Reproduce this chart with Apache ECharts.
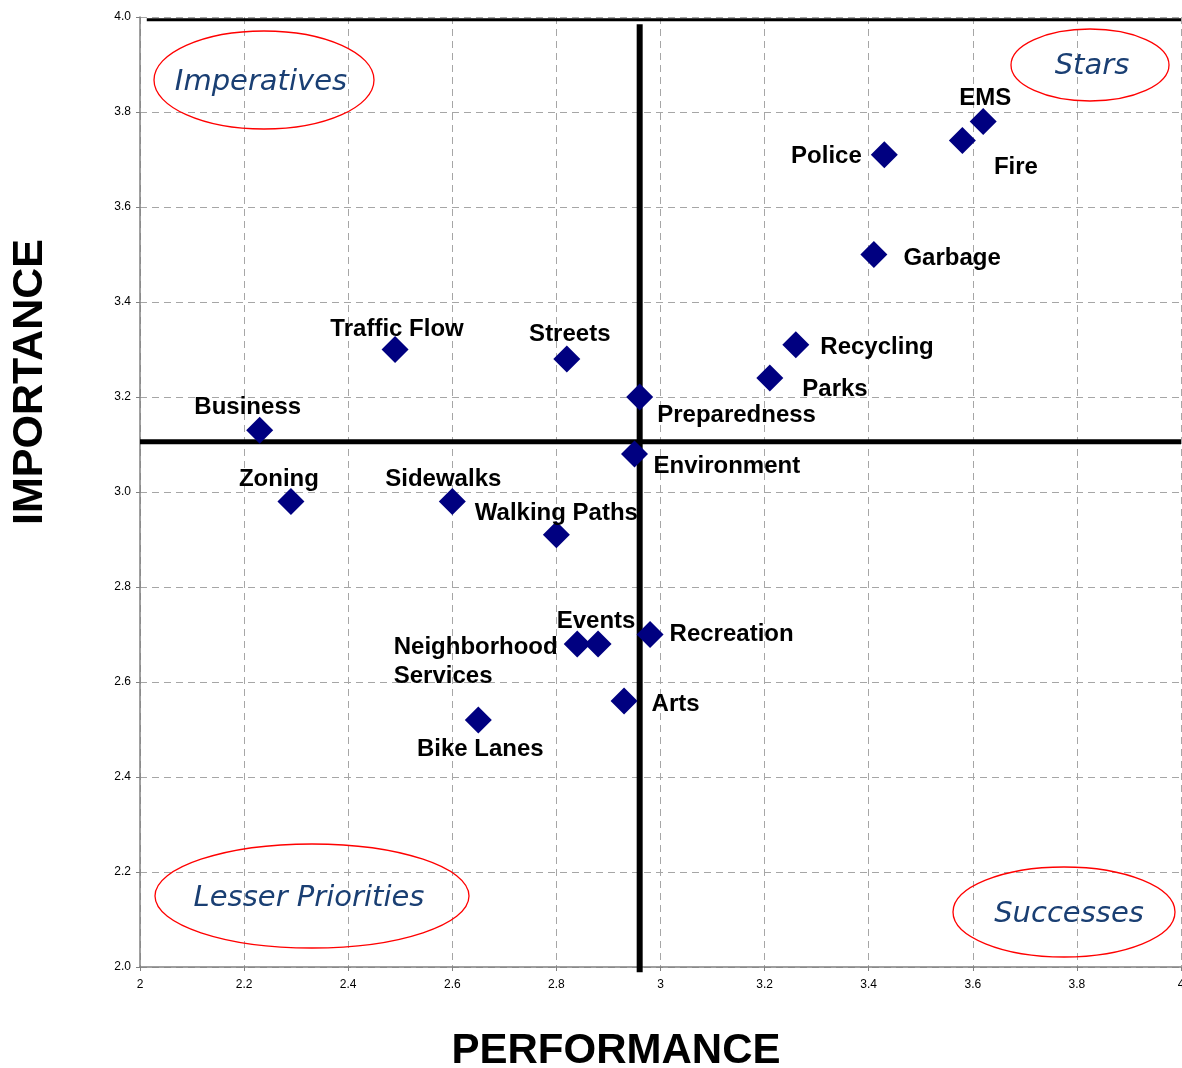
<!DOCTYPE html>
<html><head><meta charset="utf-8">
<script src="https://cdn.jsdelivr.net/npm/echarts@6/dist/echarts.min.js"></script>
<style>html,body{margin:0;padding:0;background:#fff}#c{width:1182px;height:1068px}</style>
</head><body><div id="c"></div>
<script>
// ---- data ----
const names = ["EMS","Fire","Police","Garbage","Recycling","Parks","Preparedness","Environment","Streets","Traffic Flow","Business","Zoning","Sidewalks","Walking Paths","Events","Neighborhood\nServices","Recreation","Arts","Bike Lanes"];
const performance = [3.62,3.58,3.43,3.41,3.26,3.21,2.96,2.95,2.82,2.49,2.23,2.29,2.60,2.80,2.88,2.84,2.98,2.93,2.65];
const importance  = [3.78,3.74,3.71,3.50,3.31,3.24,3.20,3.08,3.28,3.30,3.13,2.98,2.98,2.91,2.68,2.68,2.70,2.56,2.52];
const xTicks = [2,2.2,2.4,2.6,2.8,3,3.2,3.4,3.6,3.8,4];
const yTicks = [2.0,2.2,2.4,2.6,2.8,3.0,3.2,3.4,3.6,3.8,4.0];
const perfDivide = 2.96;
const impDivide = 3.106;
const topRule = 3.994;
const quadrants = ["Imperatives","Stars","Lesser Priorities","Successes"];

// ---- label placement (style): [position, distance, offset, align] ----
const labelPlace = {
  "EMS":["top",-3.5,[2,0]],
  "Fire":["right",0,[18,27]],
  "Police":["left",9,[0,1.5]],
  "Garbage":["right",16,[0,3.5]],
  "Recycling":["right",11,[0,2.5]],
  "Parks":["right",19,[0,11.5]],
  "Preparedness":["right",4,[0,18]],
  "Environment":["right",5.5,[0,12.5]],
  "Streets":["top",-1.5,[3,0]],
  "Traffic Flow":["top",-6,[2,0]],
  "Business":["top",-3.5,[-12,0]],
  "Zoning":["top",-4.5,[-12,0]],
  "Sidewalks":["top",-4,[-9,0]],
  "Walking Paths":["top",-5,[0,0]],
  "Events":["top",-4,[-2,0]],
  "Neighborhood\nServices":["left",6,[-164,17.5],'left'],
  "Recreation":["right",6,[0,-0.5]],
  "Arts":["right",14,[0,3]],
  "Bike Lanes":["bottom",3,[2,0]]
};
const alignFor = {top:'center',bottom:'center',left:'right',right:'left'};

const pts = names.map((n,i)=>{
  const p = labelPlace[n];
  return {value:[performance[i],importance[i]], name:n,
    label:{position:p[0], distance:p[1], offset:p[2], align: p[3] || alignFor[p[0]],
      lineHeight: n.indexOf('\n')>=0 ? 29 : 26}};
});

const chart = echarts.init(document.getElementById('c'),null,{renderer:'canvas'});
const grid = {left:140,right:1,top:17,bottom:101,outerBoundsMode:'none',containLabel:false};
const ellipse = (cx,cy,rx,ry,tx,ty,txt)=>[
  {type:'ellipse',shape:{cx:cx,cy:cy,rx:rx,ry:ry},style:{fill:'none',stroke:'#ff0000',lineWidth:1.3},z:50},
  {type:'text',x:tx,y:ty,style:{text:txt,font:'italic 29px "DejaVu Sans"',fill:'#1a3f73',align:'center',verticalAlign:'middle'},z:51}
];
chart.setOption({
  animation:false,
  grid:grid,
  xAxis:{type:'value',min:2,max:4,interval:0.2,
    axisLine:{show:true,onZero:false,lineStyle:{color:'#808080',width:1.5}},
    axisTick:{show:true,length:4,lineStyle:{color:'#808080'}},
    axisLabel:{color:'#000',fontSize:12,fontFamily:'Liberation Sans',margin:12,
      formatter:v=>{const t=xTicks.find(a=>Math.abs(a-v)<1e-6);return t===undefined?'':String(t);}},
    splitLine:{show:true,lineStyle:{color:'#a6a6a6',type:[7,5],width:1}}
  },
  yAxis:{type:'value',min:2,max:4,interval:0.2,
    axisLine:{show:true,onZero:false,lineStyle:{color:'#808080',width:1.5}},
    axisTick:{show:true,length:4,lineStyle:{color:'#808080'}},
    axisLabel:{color:'#000',fontSize:12,fontFamily:'Liberation Sans',margin:9,
      formatter:v=>{const t=yTicks.find(a=>Math.abs(a-v)<1e-6);return t===undefined?'':t.toFixed(1);}},
    splitLine:{show:true,lineStyle:{color:'#a6a6a6',type:[7,5],width:1}}
  },
  graphic:[
    ...ellipse(264,80,110,49,261,82,quadrants[0]),
    ...ellipse(1090,65,79,36,1092,66,quadrants[1]),
    ...ellipse(312,896,157,52,309,898,quadrants[2]),
    ...ellipse(1064,912,111,45,1069,914,quadrants[3]),
    {type:'text',x:30,y:382,rotation:Math.PI/2,style:{text:'IMPORTANCE',font:'bold 43px "Liberation Sans"',fill:'#000',align:'center',verticalAlign:'middle'}},
    {type:'text',x:616,y:1051,style:{text:'PERFORMANCE',font:'bold 42px "Liberation Sans"',fill:'#000',align:'center',verticalAlign:'middle'}}
  ],
  series:[
    {type:'line',data:[[2.013,topRule],[4,topRule]],symbol:'none',lineStyle:{color:'#000',width:3},silent:true,z:3,clip:false},
    {type:'line',data:[[2,impDivide],[4,impDivide]],symbol:'none',lineStyle:{color:'#000',width:5},silent:true,z:3,clip:false},
    {type:'line',data:[[perfDivide,1.989],[perfDivide,3.985]],symbol:'none',lineStyle:{color:'#000',width:6},silent:true,z:3,clip:false},
    {type:'scatter',data:pts,symbol:'diamond',symbolSize:[27,27],z:5,
      itemStyle:{color:'#000080',opacity:1},
      label:{show:true,formatter:'{b}',color:'#000',opacity:1,fontFamily:'Liberation Sans',fontWeight:'bold',fontSize:24}
    }
  ]
});
</script></body></html>
